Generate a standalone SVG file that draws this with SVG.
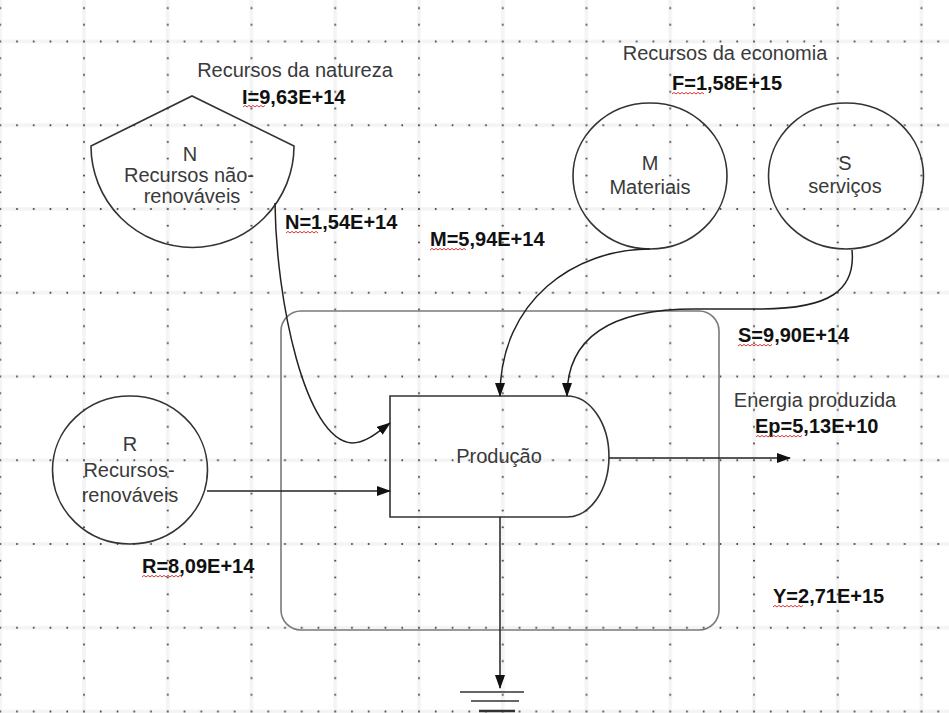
<svg xmlns="http://www.w3.org/2000/svg" width="949" height="713" viewBox="0 0 949 713">
  <defs>
    <style>
      .shape { fill: none; stroke: #333; stroke-width: 1.6; }
      .frame { fill: none; stroke: #7a7a7a; stroke-width: 1.6; }
      .link { fill: none; stroke: #222; stroke-width: 1.5; marker-end: url(#arrow); }
      .t { font-family: "Liberation Sans", Arial, sans-serif; font-size: 20px; fill: #3a3a3a; text-anchor: middle; }
      .v { font-family: "Liberation Sans", Arial, sans-serif; font-size: 20px; font-weight: bold; fill: #111; }
      .sq { fill: none; stroke: #d02020; stroke-width: 0.9; }
      .dot { fill: #3a3a3a; }
      .halo { fill: #e6e6e6; }
    </style>
    <marker id="arrow" viewBox="0 0 14 10" refX="13" refY="5" markerWidth="14" markerHeight="10" markerUnits="userSpaceOnUse" orient="auto">
      <path d="M0,0 L14,5 L0,10 z" fill="#111"/>
    </marker>
    <!-- dotted drawing grid: major lines every 83.75px, a dot every 16.75px along them -->
    <pattern id="grid" patternUnits="userSpaceOnUse" x="81" y="38.5" width="83.75" height="83.75">
      <rect class="halo" x="1.2" y="0" width="3.6" height="83.75" opacity="0.45"/>
      <rect class="halo" x="0" y="1.2" width="83.75" height="3.6" opacity="0.45"/>
      <circle class="dot" cx="3" cy="3" r="1"/>
      <circle class="dot" cx="3" cy="19.75" r="1"/>
      <circle class="dot" cx="3" cy="36.5" r="1"/>
      <circle class="dot" cx="3" cy="53.25" r="1"/>
      <circle class="dot" cx="3" cy="70" r="1"/>
      <circle class="dot" cx="19.75" cy="3" r="1"/>
      <circle class="dot" cx="36.5" cy="3" r="1"/>
      <circle class="dot" cx="53.25" cy="3" r="1"/>
      <circle class="dot" cx="70" cy="3" r="1"/>
    </pattern>
  </defs>

  <rect width="949" height="713" fill="#fff"/>
  <rect width="949" height="713" fill="url(#grid)"/>

  <!-- system boundary -->
  <g id="node-sistema">
    <rect class="frame" x="281" y="311" width="438" height="319" rx="20"/>
  </g>

  <!-- non-renewable storage -->
  <g id="node-N">
    <path class="shape" d="M91 146 L192 96 L294 146 A101.5 101.5 0 0 1 91 146 Z"/>
    <text class="t" x="190" y="161">N</text>
    <text class="t" x="189" y="182">Recursos não-</text>
    <text class="t" x="192" y="203">renováveis</text>
  </g>

  <g id="node-M">
    <ellipse class="shape" cx="650" cy="176" rx="77" ry="73"/>
    <text class="t" x="650" y="170">M</text>
    <text class="t" x="650" y="194">Materiais</text>
  </g>

  <g id="node-S">
    <ellipse class="shape" cx="846" cy="176" rx="77.5" ry="73"/>
    <text class="t" x="845" y="170">S</text>
    <text class="t" x="845" y="193">serviços</text>
  </g>

  <g id="node-R">
    <ellipse class="shape" cx="130" cy="470" rx="77.5" ry="74"/>
    <text class="t" x="130" y="451">R</text>
    <text class="t" x="129" y="477">Recursos-</text>
    <text class="t" x="130" y="502">renováveis</text>
  </g>

  <g id="node-producao">
    <path class="shape" d="M390 396 H567 A42 60.5 0 0 1 567 517 H390 Z" stroke-width="2"/>
    <text class="t" x="499" y="463">Produção</text>
  </g>

  <!-- heat sink -->
  <g id="node-sumidouro">
    <line x1="460" y1="692" x2="524" y2="692" stroke="#333" stroke-width="1.6"/>
    <line x1="471" y1="701" x2="519" y2="701" stroke="#333" stroke-width="1.6"/>
    <line x1="479" y1="711" x2="515" y2="711" stroke="#333" stroke-width="2.6"/>
  </g>

  <g id="connectors">
    <path class="link" d="M275 203 C276 300 305 440 352 443 C366 443 378 432 390 423"/>
    <path class="link" d="M650 249 C575 249 500 300 500 396"/>
    <path class="link" d="M852 250 C856 290 830 309 760 309 L695 309 C615 309 567 335 567 396"/>
    <path class="link" d="M207 491 L390 491"/>
    <path class="link" d="M609 458 L790 458"/>
    <path class="link" d="M500 517 L500 688"/>
  </g>

  <g id="labels">
    <text class="t" x="295" y="77">Recursos da natureza</text>
    <text class="v" x="242" y="104">I=9,63E+14</text>
    <text class="t" x="725" y="60">Recursos da economia</text>
    <text class="v" x="672" y="90">F=1,58E+15</text>
    <text class="v" x="285" y="229">N=1,54E+14</text>
    <text class="v" x="430" y="246">M=5,94E+14</text>
    <text class="v" x="738" y="342">S=9,90E+14</text>
    <text class="t" x="815" y="407">Energia produzida</text>
    <text class="v" x="755" y="433">Ep=5,13E+10</text>
    <text class="v" x="142" y="573">R=8,09E+14</text>
    <text class="v" x="773" y="603">Y=2,71E+15</text>
  </g>

  <!-- spell-check wavy underlines -->
  <g id="underlines">
    <path class="sq" d="M243 107 l2 -1.6 l2 1.6 l2 -1.6 l2 1.6 l2 -1.6 l2 1.6 l2 -1.6 l2 1.6 l2 -1.6 l2 1.6 l2 -1.6"/>
    <path class="sq" d="M672 94 l2 -1.6 l2 1.6 l2 -1.6 l2 1.6 l2 -1.6 l2 1.6 l2 -1.6 l2 1.6 l2 -1.6 l2 1.6 l2 -1.6 l2 1.6 l2 -1.6 l2 1.6 l2 -1.6 l2 1.6"/>
    <path class="sq" d="M286 233 l2 -1.6 l2 1.6 l2 -1.6 l2 1.6 l2 -1.6 l2 1.6 l2 -1.6 l2 1.6 l2 -1.6 l2 1.6 l2 -1.6 l2 1.6 l2 -1.6 l2 1.6 l2 -1.6 l2 1.6"/>
    <path class="sq" d="M430 250 l2 -1.6 l2 1.6 l2 -1.6 l2 1.6 l2 -1.6 l2 1.6 l2 -1.6 l2 1.6 l2 -1.6 l2 1.6 l2 -1.6 l2 1.6 l2 -1.6 l2 1.6 l2 -1.6 l2 1.6 l2 -1.6 l2 1.6"/>
    <path class="sq" d="M142 577 l2 -1.6 l2 1.6 l2 -1.6 l2 1.6 l2 -1.6 l2 1.6 l2 -1.6 l2 1.6 l2 -1.6 l2 1.6 l2 -1.6 l2 1.6 l2 -1.6 l2 1.6 l2 -1.6 l2 1.6 l2 -1.6 l2 1.6 l2 -1.6 l2 1.6"/>
    <path class="sq" d="M738 346 l2 -1.6 l2 1.6 l2 -1.6 l2 1.6 l2 -1.6 l2 1.6 l2 -1.6 l2 1.6 l2 -1.6 l2 1.6 l2 -1.6 l2 1.6 l2 -1.6 l2 1.6 l2 -1.6 l2 1.6 l2 -1.6"/>
    <path class="sq" d="M756 437 l2 -1.6 l2 1.6 l2 -1.6 l2 1.6 l2 -1.6 l2 1.6 l2 -1.6 l2 1.6 l2 -1.6 l2 1.6 l2 -1.6 l2 1.6 l2 -1.6 l2 1.6 l2 -1.6 l2 1.6 l2 -1.6 l2 1.6 l2 -1.6 l2 1.6 l2 -1.6 l2 1.6 l2 -1.6"/>
    <path class="sq" d="M773 607 l2 -1.6 l2 1.6 l2 -1.6 l2 1.6 l2 -1.6 l2 1.6 l2 -1.6 l2 1.6 l2 -1.6 l2 1.6 l2 -1.6 l2 1.6 l2 -1.6 l2 1.6 l2 -1.6"/>
  </g>
</svg>
